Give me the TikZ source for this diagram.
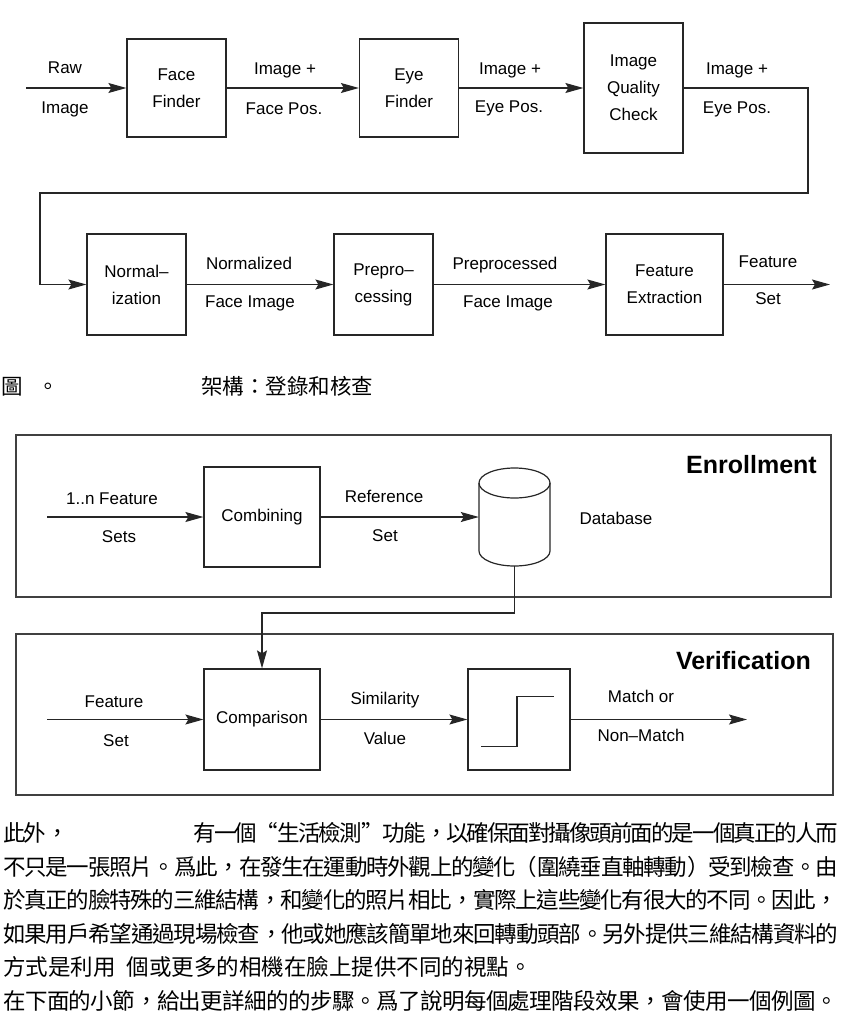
\documentclass[tikz,border=0pt]{standalone}
\usepackage{fontspec}
\setmainfont{Liberation Sans}
\newfontfamily\cjk{Noto Sans CJK TC}
\usetikzlibrary{arrows.meta}
\XeTeXlinebreaklocale "zh"
\XeTeXlinebreakskip=0pt plus 3pt minus 3pt

\tikzset{
  block/.style={draw=black!85, line width=1.2pt, minimum width=99pt, minimum height=98pt,
    inner sep=0pt, align=center, font=\fontsize{17}{27}\selectfont},
  lbl/.style={inner sep=0pt, text height=12.5pt, text depth=3.5pt, font=\fontsize{17}{20}\selectfont},
  flow/.style={draw=black!85, line width=1.2pt, -{Stealth[length=18pt,width=10pt,inset=3pt]}},
  panel/.style={draw=black!75, line width=1.8pt, inner sep=0pt},
  title/.style={inner sep=0pt, anchor=east, font=\fontsize{25}{30}\selectfont\bfseries},
  body/.style={inner sep=0pt, anchor=base west, text width=835pt, align=justify,
    font=\cjk\fontsize{22.5}{33.5}\selectfont},
}

\begin{document}
\begin{tikzpicture}[x=1pt,y=1pt]
  \useasboundingbox (0,0) rectangle (845,-1017);

  % feature extraction chain
  \node[block] (face) at (176.5,-88) {Face\\Finder};
  \node[block] (eye) at (409,-88) {Eye\\Finder};
  \node[block, minimum height=130pt] (iqc) at (633.5,-88) {Image\\Quality\\Check};
  \node[block, minimum height=101pt] (norm) at (136.5,-284.5) {Normal--\\ization};
  \node[block, minimum height=101pt] (prep) at (383.5,-284.5) {Prepro--\\cessing};
  \node[block, minimum width=117pt, minimum height=101pt] (feat) at (664.5,-284.5) {Feature\\Extraction};

  \coordinate (rawin) at (26,-88);
  \coordinate (bendR) at (808,-193);
  \coordinate (bendL) at (40,-193);
  \coordinate (setout) at (830,-284.5);

  \draw[flow] (rawin) -- (face.west);
  \draw[flow] (face.east) -- (eye.west);
  \draw[flow] (eye.east) -- (iqc.west);
  \draw[flow] (iqc.east) -| (bendR) -- (bendL) |- (norm.west);
  \draw[flow] (norm.east) -- (prep.west);
  \draw[flow] (prep.east) -- (feat.west);
  \draw[flow] (feat.east) -- (setout);

  \node[lbl] (rawA) at (65,-69) {Raw};
  \node[lbl] (rawB) at (65,-109) {Image};
  \node[lbl] (facA) at (285,-70) {Image +};
  \node[lbl] (facB) at (284,-110) {Face Pos.};
  \node[lbl] (eyeA) at (510,-70) {Image +};
  \node[lbl] (eyeB) at (509,-108) {Eye Pos.};
  \node[lbl] (iqcA) at (737,-70) {Image +};
  \node[lbl] (iqcB) at (737,-109) {Eye Pos.};
  \node[lbl] (nrmA) at (249,-265) {Normalized};
  \node[lbl] (nrmB) at (250,-303) {Face Image};
  \node[lbl] (prpA) at (505,-265) {Preprocessed};
  \node[lbl] (prpB) at (508,-303) {Face Image};
  \node[lbl] (setA) at (768,-263) {Feature};
  \node[lbl] (setB) at (768,-300) {Set};

  % caption
  \node[inner sep=0pt, anchor=base west, font=\cjk\fontsize{21.5}{26}\selectfont] (caption) at (1,-394)
    {圖\hspace{15pt}。\hspace{142pt}架構：登錄和核查};

  % enrollment and verification
  \node[panel, minimum width=815pt, minimum height=162pt] (enrol) at (423.5,-516) {};
  \node[panel, minimum width=817pt, minimum height=161pt] (verif) at (424.5,-714.5) {};
  \node[title] (enrolT) at (817,-465) {Enrollment};
  \node[title] (verifT) at (811,-661) {Verification};

  \node[block, minimum width=116pt, minimum height=100pt] (comb) at (262,-517) {Combining};
  \node[inner sep=0pt, minimum width=71pt, minimum height=98pt] (db) at (514.5,-517) {};
  \draw[draw=black!85, line width=1.2pt] (514.5,-483) ellipse [x radius=35.5, y radius=15];
  \draw[draw=black!85, line width=1.2pt] (479,-483) -- (479,-551)
    arc[start angle=180, end angle=360, x radius=35.5, y radius=15] -- (550,-483);
  \node[block, minimum width=116pt, minimum height=101pt] (cmp) at (262,-719.5) {Comparison};
  \node[block, minimum width=102pt, minimum height=101pt] (thr) at (519,-719.5) {};
  \draw[draw=black!85, line width=1.2pt] ([shift={(-38,-27)}]thr.center) -- ([shift={(-2,-27)}]thr.center)
    -- ([shift={(-2,23)}]thr.center) -- ([shift={(35,23)}]thr.center);

  \coordinate (setsin) at (47,-517);
  \coordinate (dbturn) at (514.5,-613);
  \coordinate (featin) at (47,-719.5);
  \coordinate (matchout) at (747,-719.5);

  \draw[flow] (setsin) -- (comb.west);
  \draw[flow] (comb.east) -- (db.west);
  \draw[flow] (db.south) -- (dbturn) -| (cmp.north);
  \draw[flow] (featin) -- (cmp.west);
  \draw[flow] (cmp.east) -- (thr.west);
  \draw[flow] (thr.east) -- (matchout);

  \node[lbl] (setsA) at (112,-500) {1..n Feature};
  \node[lbl] (setsB) at (119,-538) {Sets};
  \node[lbl] (refA) at (384,-498) {Reference};
  \node[lbl] (refB) at (385,-537) {Set};
  \node[lbl] (dbL) at (616,-520) {Database};
  \node[lbl] (fsetA) at (114,-703) {Feature};
  \node[lbl] (fsetB) at (116,-742) {Set};
  \node[lbl] (simA) at (385,-700) {Similarity};
  \node[lbl] (simB) at (385,-740) {Value};
  \node[lbl] (matA) at (641,-698) {Match or};
  \node[lbl] (matB) at (641,-737) {Non--Match};

  % body text
  \node[body] (para) at (3,-841.6) {此外，\hspace{125pt}有一個“生活檢測”功能，以確保面對攝像頭前面的是一個真正的人而\linebreak
    不只是一張照片。爲此，在發生在運動時外觀上的變化（圍繞垂直軸轉動）受到檢查。由\linebreak
    於真正的臉特殊的三維結構，和變化的照片相比，實際上這些變化有很大的不同。因此，\linebreak
    如果用戶希望通過現場檢查，他或她應該簡單地來回轉動頭部。另外提供三維結構資料的\linebreak
    方式是利用\hspace{11pt}個或更多的相機在臉上提供不同的視點。\par
    在下面的小節，給出更詳細的的步驟。爲了說明每個處理階段效果，會使用一個例圖。};
\end{tikzpicture}
\end{document}
